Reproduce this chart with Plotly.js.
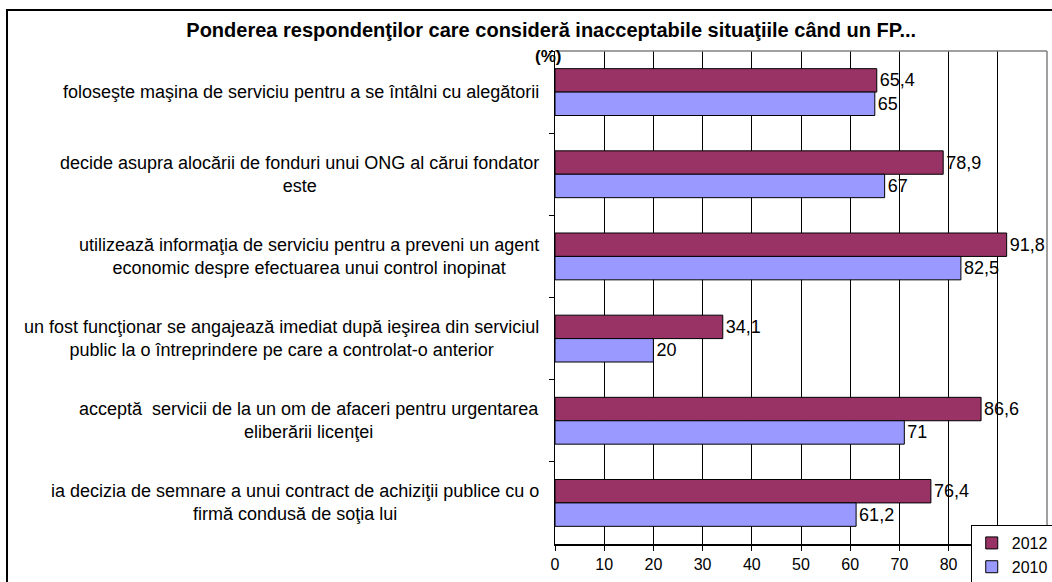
<!DOCTYPE html>
<html><head><meta charset="utf-8">
<script src="https://cdn.plot.ly/plotly-3.0.1.min.js"></script>
<style>html,body{margin:0;padding:0;background:#fff;}#chart{width:1052px;height:582px;}</style>
</head><body><div id="chart"></div>
<script>
const categories = [
  "foloseşte maşina de serviciu pentru a se întâlni cu alegătorii",
  "decide asupra alocării de fonduri unui ONG al cărui fondator<br>este",
  "utilizează informaţia de serviciu pentru a preveni un agent<br>economic despre efectuarea unui control inopinat",
  "un fost funcţionar se angajează imediat după ieşirea din serviciul<br>public la o întreprindere pe care a controlat-o anterior",
  "acceptă  servicii de la un om de afaceri pentru urgentarea<br>eliberării licenţei",
  "ia decizia de semnare a unui contract de achiziţii publice cu o<br>firmă condusă de soţia lui"
];
const values2012 = [65.4, 78.9, 91.8, 34.1, 86.6, 76.4];
const values2010 = [65, 67, 82.5, 20, 71, 61.2];
const seriesNames = ["2012", "2010"];
const xTickVals = [0, 10, 20, 30, 40, 50, 60, 70, 80, 90, 100];
const titleText = "Ponderea respondenţilor care consideră inacceptabile situaţiile când un FP...";
const unitLabel = "(%)";

const FONT = "Liberation Sans, Arial, sans-serif";
const fmt = v => String(v).replace(".", ",");

function barTrace(name, vals, color) {
  return {
    type: "bar", orientation: "h", name: name,
    x: vals, y: categories,
    text: vals.map(fmt), textposition: "outside", cliponaxis: false,
    constraintext: "none",
    textfont: {family: FONT, size: 18, color: "#000"},
    marker: {color: color, line: {color: "#000", width: 1}},
    hoverinfo: "skip"
  };
}

const data = [
  barTrace(seriesNames[0], values2012, "#993366"),
  barTrace(seriesNames[1], values2010, "#9999FF")
];

const annotations = categories.map(c => ({
  xref: "paper", yref: "y", x: 0, y: c, xanchor: "right", yanchor: "middle",
  xshift: -14, text: c, align: "center", showarrow: false,
  font: {family: FONT, size: 18, color: "#000"}
}));
annotations.push({
  xref: "paper", yref: "paper", x: -0.014, y: 0.988, xanchor: "center", yanchor: "middle",
  text: "<b>" + unitLabel + "</b>", showarrow: false,
  font: {family: FONT, size: 17, color: "#000"}
});

const layout = {
  width: 1052, height: 582,
  margin: {l: 555, r: 5, t: 51, b: 38, pad: 0, autoexpand: false},
  paper_bgcolor: "#fff", plot_bgcolor: "#fff",
  font: {family: FONT, color: "#000"},
  title: {
    text: "<b>" + titleText + "</b>",
    font: {family: FONT, size: 20, color: "#000"},
    xref: "container", yref: "container", x: 0.524, xanchor: "center", y: 0.948, yanchor: "middle",
    automargin: false
  },
  barmode: "group", bargap: 0.43, bargroupgap: 0,
  xaxis: {
    range: [0, 100], tickvals: xTickVals, showgrid: true, gridcolor: "#000", gridwidth: 1,
    zeroline: false, showline: true, linecolor: "#000", linewidth: 1.5,
    ticks: "outside", ticklen: 5, tickcolor: "#000", automargin: false,
    tickfont: {family: FONT, size: 16, color: "#000"}, fixedrange: true
  },
  yaxis: {
    type: "category", autorange: "reversed", showgrid: false, zeroline: false,
    showline: true, linecolor: "#000", linewidth: 1.5, automargin: false,
    ticks: "outside", tickson: "boundaries", ticklen: 5, tickcolor: "#000",
    showticklabels: false, fixedrange: true
  },
  showlegend: true,
  legend: {
    x: 0.845, y: 0.0385, xanchor: "left", yanchor: "top",
    bgcolor: "#fff", bordercolor: "#000", borderwidth: 1,
    font: {family: FONT, size: 16, color: "#000"}, traceorder: "normal"
  },
  annotations: annotations,
  shapes: [
    {type: "line", xref: "paper", yref: "paper", x0: 1, x1: 1, y0: 0, y1: 1, line: {color: "#808080", width: 1.5}},
    {type: "line", xref: "paper", yref: "paper", x0: 0, x1: 1, y0: 1, y1: 1, line: {color: "#808080", width: 1.5}},
    {type: "rect", xref: "paper", yref: "paper", x0: -1.1138, x1: 1.3, y0: -0.3, y1: 1.0832, line: {color: "#000", width: 2}, fillcolor: "rgba(0,0,0,0)"}
  ]
};

Plotly.newPlot("chart", data, layout, {displayModeBar: false, staticPlot: true});
</script>
</body></html>
